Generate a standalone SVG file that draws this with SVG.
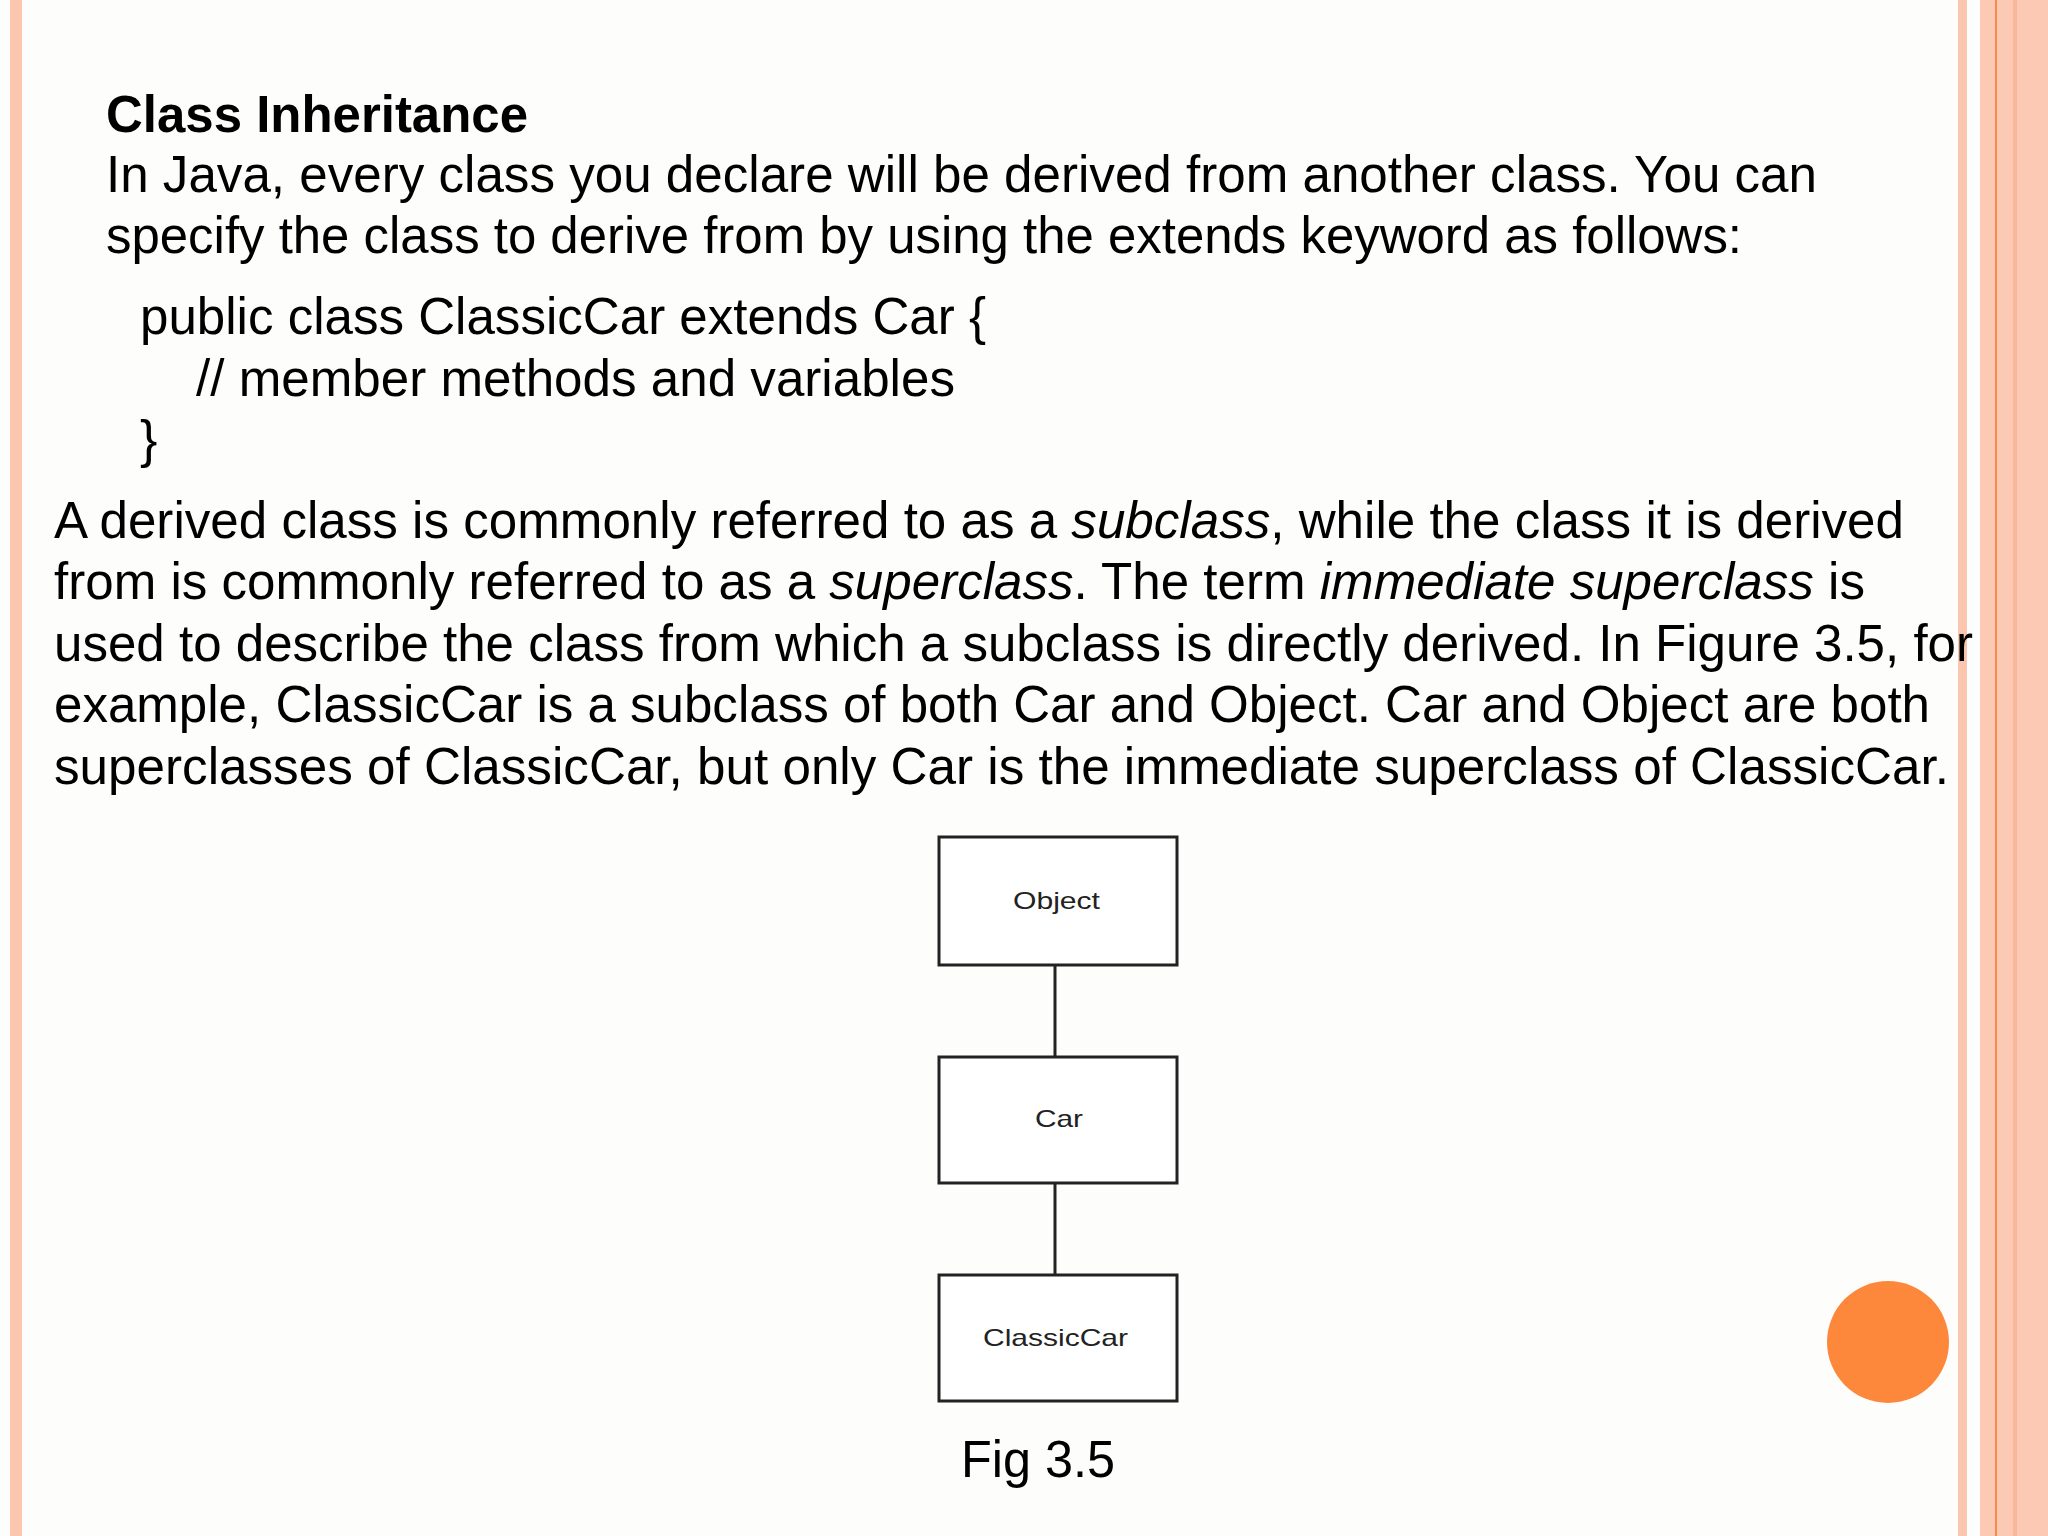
<svg xmlns="http://www.w3.org/2000/svg" width="2048" height="1536" viewBox="0 0 2048 1536">
<style>
.t{font-family:"Liberation Sans",Arial,sans-serif;font-size:52px;fill:#000}
.b{font-weight:bold}
.box{fill:#fff;stroke:#222;stroke-width:3}
.lbl{font-family:"Liberation Sans",Arial,sans-serif;font-size:24px;fill:#222}
.con{stroke:#222;stroke-width:3}
</style>
<rect width="2048" height="1536" fill="#fdfefc"/>
<rect x="10" y="0" width="12" height="1536" fill="#fbc6b0"/>
<rect x="1958" y="0" width="9" height="1536" fill="#fbc6b0"/>
<rect x="1980" y="0" width="68" height="1536" fill="#fccab4"/>
<rect x="2013" y="0" width="4" height="1536" fill="#f9b89c"/>
<rect x="1995" y="0" width="2" height="1536" fill="#f58a4a"/>
<circle cx="1888" cy="1342" r="61" fill="#fd873b"/>
<text class="t b" x="106" y="132" textLength="422" lengthAdjust="spacingAndGlyphs">Class Inheritance</text>
<text class="t" x="106" y="192" textLength="1711" lengthAdjust="spacingAndGlyphs">In Java, every class you declare will be derived from another class. You can</text>
<text class="t" x="106" y="253" textLength="1636" lengthAdjust="spacingAndGlyphs">specify the class to derive from by using the extends keyword as follows:</text>
<text class="t" x="140" y="334" textLength="846" lengthAdjust="spacingAndGlyphs">public class ClassicCar extends Car {</text>
<text class="t" x="196" y="396" textLength="759" lengthAdjust="spacingAndGlyphs">// member methods and variables</text>
<text class="t" x="140" y="457">}</text>
<text class="t" x="54" y="538" textLength="1850" lengthAdjust="spacingAndGlyphs">A derived class is commonly referred to as a <tspan font-style="italic">subclass</tspan>, while the class it is derived</text>
<text class="t" x="54" y="599" textLength="1811" lengthAdjust="spacingAndGlyphs">from is commonly referred to as a <tspan font-style="italic">superclass</tspan>. The term <tspan font-style="italic">immediate superclass</tspan> is</text>
<text class="t" x="54" y="661" textLength="1919" lengthAdjust="spacingAndGlyphs">used to describe the class from which a subclass is directly derived. In Figure 3.5, for</text>
<text class="t" x="54" y="722" textLength="1876" lengthAdjust="spacingAndGlyphs">example, ClassicCar is a subclass of both Car and Object. Car and Object are both</text>
<text class="t" x="54" y="784" textLength="1895" lengthAdjust="spacingAndGlyphs">superclasses of ClassicCar, but only Car is the immediate superclass of ClassicCar.</text>
<g id="connectors">
<line class="con" x1="1055" y1="965" x2="1055" y2="1057"/>
<line class="con" x1="1055" y1="1183" x2="1055" y2="1275"/>
</g>
<g id="object"><rect class="box" x="939" y="837" width="238" height="128"/><text class="lbl" x="1013" y="909" textLength="87" lengthAdjust="spacingAndGlyphs">Object</text></g>
<g id="car"><rect class="box" x="939" y="1057" width="238" height="126"/><text class="lbl" x="1035" y="1127" textLength="48" lengthAdjust="spacingAndGlyphs">Car</text></g>
<g id="classiccar"><rect class="box" x="939" y="1275" width="238" height="126"/><text class="lbl" x="983" y="1346" textLength="145" lengthAdjust="spacingAndGlyphs">ClassicCar</text></g>
<text class="t" x="961" y="1477" textLength="154" lengthAdjust="spacingAndGlyphs">Fig 3.5</text>
</svg>
